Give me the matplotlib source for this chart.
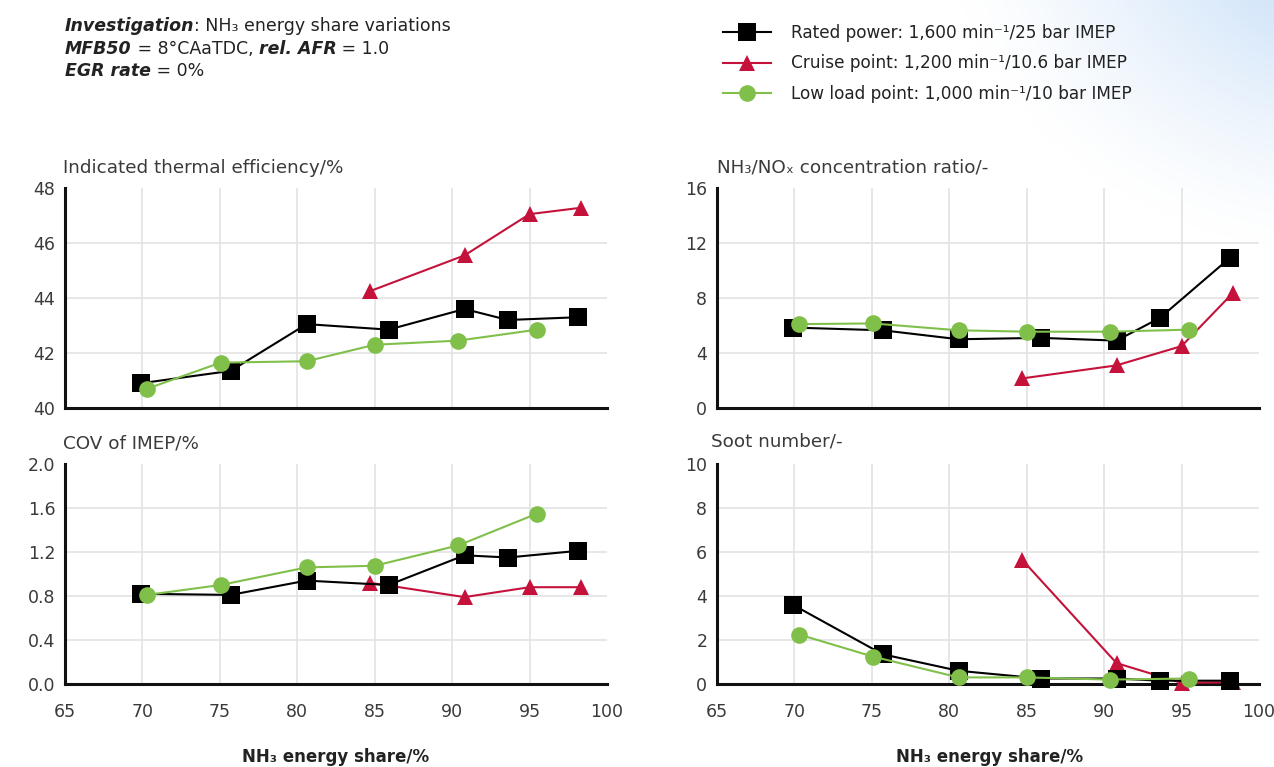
import numpy as np
import matplotlib
matplotlib.use("Agg")
import matplotlib.pyplot as plt
from matplotlib.lines import Line2D

plt.rcParams['font.family'] = ['DejaVu Sans']

# operating points: NH3 energy share (%)
rated_share = [69.9, 75.7, 80.6, 85.9, 90.8, 93.6, 98.1]
cruise_share = [84.7, 90.8, 95.0, 98.3]
low_share = [70.3, 75.05, 80.6, 85.0, 90.4, 95.5]

# indicated thermal efficiency (%)
rated_ite = [40.9, 41.35, 43.05, 42.85, 43.6, 43.2, 43.3]
cruise_ite = [44.25, 45.55, 47.05, 47.28]
low_ite = [40.7, 41.65, 41.7, 42.3, 42.45, 42.85]

# NH3/NOx concentration ratio (-)
rated_ratio = [5.85, 5.65, 5.0, 5.1, 4.9, 6.55, 10.9]
cruise_ratio = [2.15, 3.1, 4.5, 8.35]
low_ratio = [6.1, 6.15, 5.65, 5.55, 5.55, 5.7]

# COV of IMEP (%)
rated_cov = [0.82, 0.81, 0.94, 0.90, 1.17, 1.15, 1.21]
cruise_cov = [0.92, 0.79, 0.88, 0.88]
low_cov = [0.81, 0.90, 1.06, 1.075, 1.26, 1.55]

# soot number (-)
rated_soot = [3.6, 1.35, 0.6, 0.25, 0.25, 0.15, 0.15]
cruise_soot = [5.65, 0.95, 0.05, 0.08]
low_soot = [2.25, 1.25, 0.3, 0.3, 0.2, 0.25]

x_ticks = [65, 70, 75, 80, 85, 90, 95, 100]

labels = ["Rated power: 1,600 min\u207b\u00b9/25 bar IMEP",
          "Cruise point: 1,200 min\u207b\u00b9/10.6 bar IMEP",
          "Low load point: 1,000 min\u207b\u00b9/10 bar IMEP"]

BLACK = "#000000"
RED = "#c4123a"
GREEN = "#80c04a"
TXT = "#3a3a3a"

W, H = 1274, 767
fig = plt.figure(figsize=(W / 100, H / 100), dpi=100)

# soft blue corner in the background (top right)
bg = fig.add_axes([0, 0, 1, 1], zorder=-10)
yy, xx = np.mgrid[0:H, 0:W]
d = np.sqrt(((xx - 1360) / 360.0) ** 2 + ((yy + 90) / 300.0) ** 2)
a = np.clip(1.15 - d, 0, 1) ** 1.3
c0 = np.array([1.0, 1.0, 1.0])
c1 = np.array([0.76, 0.86, 0.97])
img = c0[None, None, :] * (1 - a[..., None]) + c1[None, None, :] * a[..., None]
bg.imshow(img, extent=[0, W, H, 0], aspect='auto')
bg.set_xlim(0, W)
bg.set_ylim(H, 0)
bg.axis('off')


def px(x, y):
    return x / W, 1 - y / H


def make_ax(left, bottom, ylim, yticks, ylabels, xlab):
    ax = fig.add_axes([left / W, 1 - bottom / H, 542 / W, 220 / H])
    ax.set_xlim(65, 100)
    ax.set_ylim(*ylim)
    ax.set_xticks(x_ticks)
    ax.set_yticks(yticks)
    ax.set_yticklabels(ylabels)
    ax.grid(True, color="#e3e3e3", linewidth=1.2)
    ax.set_axisbelow(True)
    # no grid line on the top edge or at x = 100
    ax.get_ygridlines()[-1].set_visible(False)
    ax.get_xgridlines()[-1].set_visible(False)
    for s in ["top", "right"]:
        ax.spines[s].set_visible(False)
    for s in ["left", "bottom"]:
        ax.spines[s].set_linewidth(2.2)
        ax.spines[s].set_color("#111111")
        ax.spines[s].set_zorder(2.5)
    ax.tick_params(length=0, labelsize=12.5, colors=TXT, pad=7)
    ax.tick_params(axis='x', pad=14)
    if not xlab:
        ax.tick_params(axis='x', labelbottom=False)
    ax.set_facecolor('none')
    return ax


def draw(ax, r, c, g):
    kw = dict(clip_on=False, linewidth=1.5, markeredgewidth=0)
    ax.plot(cruise_share, c, color=RED, marker='^', markersize=12, zorder=3, **kw)
    ax.plot(rated_share, r, color=BLACK, marker='s', markersize=13, zorder=4, **kw)
    ax.plot(low_share, g, color=GREEN, marker='o', markersize=12, zorder=5, **kw)


ax1 = make_ax(65, 408, (40, 48), [40, 42, 44, 46, 48], ["40", "42", "44", "46", "48"], False)
draw(ax1, rated_ite, cruise_ite, low_ite)
ax2 = make_ax(717, 408, (0, 16), [0, 4, 8, 12, 16], ["0", "4", "8", "12", "16"], False)
draw(ax2, rated_ratio, cruise_ratio, low_ratio)
ax3 = make_ax(65, 684, (0, 2), [0, 0.4, 0.8, 1.2, 1.6, 2.0], ["0.0", "0.4", "0.8", "1.2", "1.6", "2.0"], True)
draw(ax3, rated_cov, cruise_cov, low_cov)
ax4 = make_ax(717, 684, (0, 10), [0, 2, 4, 6, 8, 10], ["0", "2", "4", "6", "8", "10"], True)
draw(ax4, rated_soot, cruise_soot, low_soot)

fs_t = 13.2
fig.text(*px(63, 168), "Indicated thermal efficiency/%", fontsize=fs_t, color=TXT, va='center')
fig.text(*px(717, 168), "NH\u2083/NO\u2093 concentration ratio/-", fontsize=fs_t, color=TXT, va='center')
fig.text(*px(63, 443), "COV of IMEP/%", fontsize=fs_t, color=TXT, va='center')
fig.text(*px(711, 442), "Soot number/-", fontsize=fs_t, color=TXT, va='center')

fig.text(*px(336, 757), "NH\u2083 energy share/%", fontsize=12, fontweight='bold', color="#222222",
         ha='center', va='center')
fig.text(*px(990, 757), "NH\u2083 energy share/%", fontsize=12, fontweight='bold', color="#222222",
         ha='center', va='center')

# investigation note with mixed styles
renderer = fig.canvas.get_renderer()
note_lines = [
    [("Investigation", True), (": NH\u2083 energy share variations", False)],
    [("MFB50", True), (" = 8\u00b0CAaTDC, ", False), ("rel. AFR", True), (" = 1.0", False)],
    [("EGR rate", True), (" = 0%", False)],
]
y0 = 31
for line in note_lines:
    x = 65
    for txt, emph in line:
        t = fig.text(x / W, 1 - y0 / H, txt, fontsize=12.5, color="#222222", va='baseline',
                     fontstyle='italic' if emph else 'normal',
                     fontweight='bold' if emph else 'normal')
        x = t.get_window_extent(renderer).x1
    y0 += 22.5

handles = [
    Line2D([], [], color=BLACK, marker='s', markersize=13, linewidth=1.5, markeredgewidth=0),
    Line2D([], [], color=RED, marker='^', markersize=12, linewidth=1.5, markeredgewidth=0),
    Line2D([], [], color=GREEN, marker='o', markersize=12, linewidth=1.5, markeredgewidth=0),
]
fig.legend(handles, labels, loc='upper left', bbox_to_anchor=px(708, 9), frameon=False,
           fontsize=12.2, handlelength=2.8, handletextpad=1.2, labelspacing=0.72,
           numpoints=1, labelcolor="#222222")

fig.savefig("out.png", dpi=100)
